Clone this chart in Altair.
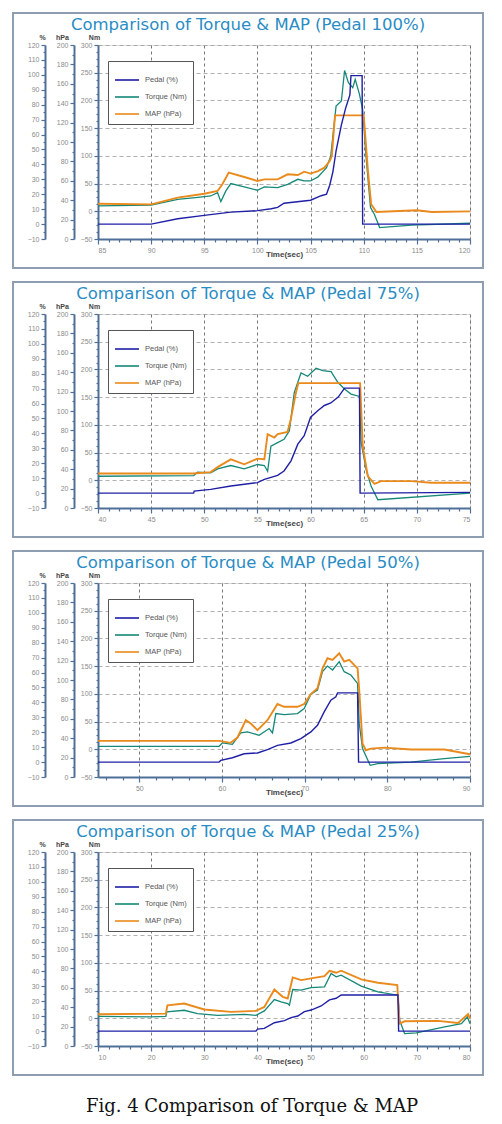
import altair as alt
import pandas as pd

# ---------------- data ----------------
series_names = ["Pedal (%)", "Torque (Nm)", "MAP (hPa)"]
series_colors = ["#1f1fa6", "#168878", "#ea8a1c"]

titles = [
    "Comparison of Torque & MAP (Pedal 100%)",
    "Comparison of Torque & MAP (Pedal 75%)",
    "Comparison of Torque & MAP (Pedal 50%)",
    "Comparison of Torque & MAP (Pedal 25%)",
]
caption = "Fig. 4 Comparison of Torque & MAP"

x_domains = [[85, 120], [40, 75], [45, 90], [10, 80]]
x_major_step = [5, 5, 10, 10]
x_minor_ticks = [
    list(range(85, 121, 1)),
    list(range(40, 76, 1)),
    list(range(46, 91, 2)),
    list(range(10, 81, 2)),
]

pct_ticks = list(range(-10, 121, 5))
hpa_ticks = list(range(0, 201, 10))
nm_ticks = [v / 2 for v in range(-100, 601, 25)]

# Panel 1 (Pedal 100%)
p1_ped_t = [85, 90, 92.5, 95, 97.5, 100, 101.3, 101.9, 102.5, 105, 106, 106.5, 106.8, 107.1, 107.4, 107.9, 108.3, 108.7, 108.8, 109.85, 109.9, 120]
p1_ped_v = [0, 0, 3.6, 5.8, 8, 9, 10.3, 11.2, 14, 16, 19, 20, 26, 35, 49, 66.5, 77.7, 86.6, 99.5, 99.5, 0, 0]
p1_tq_t = [85, 90, 92.5, 94.4, 95.6, 96.25, 96.56, 97.03, 97.5, 98.76, 100.0, 100.65, 101.9, 102.85, 103.8, 104.4, 105.0, 105.7, 106.5, 106.9, 107.4, 107.9, 108.2, 108.56, 108.97, 109.2, 109.6, 109.9, 110.2, 110.64, 111.0, 111.5, 114.5, 120]
p1_tq_v = [9.6, 11, 21.6, 25, 27.6, 33.6, 17.4, 36.7, 50, 44, 38, 44, 42.7, 48.7, 57.7, 54.7, 54.7, 62, 78.7, 100, 190, 199, 254, 232, 223, 238, 211, 184, 103, 6.6, -5.4, -29.4, -25, -21.6]
p1_map_t = [85, 90, 92.5, 95, 96.25, 96.7, 97.3, 98.76, 100, 100.65, 101.9, 102.85, 103.8, 104.4, 105, 105.7, 106.3, 106.8, 107.0, 107.3, 110.0, 110.4, 110.7, 111.2, 115, 116.4, 120]
p1_map_v = [36.4, 35.7, 42.6, 46.7, 49.5, 56.4, 68.4, 63.9, 59.8, 61.5, 61.5, 66.7, 66, 69.4, 67.4, 70, 73.5, 80.4, 85.6, 127.5, 127.5, 70, 35.7, 27.8, 29.6, 27.8, 28.5]

# Panel 2 (Pedal 75%)
p2_ped_t = [40, 49, 49.05, 50.6, 52.5, 55.0, 55.65, 56.9, 57.5, 58.16, 58.8, 59.4, 60.0, 60.7, 61.3, 61.9, 62.6, 63.2, 64.6, 64.66, 75]
p2_ped_v = [0, 0, 1.3, 2.5, 4.7, 7, 9.2, 11.9, 14.8, 21.6, 32.8, 38.4, 50.8, 55.3, 58.7, 60.4, 64.3, 70.3, 70.3, 0, 0.5]
p2_tq_t = [40, 49.0, 49.36, 50.6, 51.25, 52.5, 53.76, 55.0, 55.65, 55.96, 56.27, 56.9, 57.5, 58.0, 58.47, 59.1, 59.73, 60.52, 61.14, 61.93, 62.56, 63.19, 63.81, 64.6, 64.76, 65.23, 65.7, 66.33, 75]
p2_tq_v = [7.3, 8.5, 14.5, 13.3, 20.6, 26.6, 20.6, 28.5, 26.6, 16.3, 61.7, 67.8, 73.8, 89, 158.6, 193.7, 187.7, 202.2, 198, 196, 176.8, 164.6, 155.6, 151.3, 67.8, 19.4, -10.9, -35.1, -23]
p2_map_t = [40, 49, 50.6, 51.25, 52.5, 53.76, 55, 55.65, 55.96, 56.59, 56.9, 57.84, 58.16, 58.63, 58.85, 64.66, 64.91, 65.38, 66.01, 66.64, 69.47, 71.35, 75]
p2_map_v = [35.6, 35.6, 37, 42.2, 50.2, 45, 50.9, 50.2, 76.1, 72.7, 76.1, 78.5, 92.4, 119.4, 128.7, 128.7, 64, 32.9, 24.9, 27.7, 27.7, 26, 26]

# Panel 3 (Pedal 50%)
p3_ped_t = [45, 59.65, 59.85, 61.26, 62.68, 64.29, 65.5, 66.71, 68.33, 69.54, 70.75, 71.55, 72.36, 73.17, 73.77, 73.98, 76.4, 76.52, 90]
p3_ped_v = [0, 0, 1.1, 2.9, 5.6, 6.1, 8.3, 11.2, 12.8, 15.7, 20.2, 24.7, 33.6, 41.5, 43.7, 46.4, 46.4, 0, 0]
p3_tq_t = [45, 59.65, 60.05, 61.26, 62.27, 63.08, 64.49, 65.7, 66.11, 66.51, 67.52, 69.13, 69.94, 70.75, 71.55, 72.16, 72.76, 73.37, 74.18, 74.78, 75.59, 76.4, 76.6, 77.0, 77.93, 78.82, 82.85, 86.89, 90]
p3_tq_v = [5.4, 5.4, 11.5, 9, 29.6, 31.4, 25.3, 37.4, 29.6, 64.5, 62.7, 64.5, 73.6, 99.5, 106.8, 140, 150.2, 143, 158, 140, 134, 118.8, 46.4, 1.2, -29, -26, -23, -17, -12.7]
p3_map_t = [45, 59.65, 61.06, 61.87, 62.88, 63.48, 64.29, 65.5, 66.71, 67.52, 69.13, 69.94, 70.75, 71.55, 72.16, 72.76, 73.37, 74.18, 74.78, 75.39, 76.4, 76.6, 77, 77.4, 78.01, 79.62, 82.85, 86.89, 90]
p3_map_v = [37.2, 37.2, 35.2, 40.7, 58.6, 55.2, 48.3, 58.6, 75.2, 72.4, 72.4, 75.2, 85.5, 91.4, 112, 122.4, 120.7, 127.6, 119, 120.7, 112, 89.7, 34.5, 27.6, 29.3, 30.3, 28.3, 28.3, 23.4]

# Panel 4 (Pedal 25%)
p4_ped_t = [10, 39.73, 40.04, 41.3, 43.19, 45.07, 46.33, 47.59, 48.84, 50.1, 51.99, 53.56, 54.82, 55.76, 66.44, 66.57, 80]
p4_ped_v = [0, 0, 1.3, 1.8, 5.6, 7, 9, 10.1, 13, 14.1, 16.8, 20.9, 22, 24.2, 24.2, 0, 0]
p4_tq_t = [10, 19.93, 22.76, 22.95, 26.22, 28.73, 32.5, 37.53, 39.73, 41.3, 43.19, 44.45, 45.7, 46.02, 46.64, 48.22, 50.1, 52.62, 53.87, 54.82, 55.76, 59.53, 62.67, 66.44, 66.76, 67.7, 69.9, 75.24, 78.38, 79.52, 80]
p4_tq_v = [3.6, 2.4, 3.6, 11.5, 14.5, 8.4, 5.4, 7.2, 5.4, 13.3, 33.8, 29.6, 26.5, 23.5, 51.9, 50.7, 55.5, 56.7, 80.8, 74.8, 77.8, 57.9, 47.6, 41.6, -3.6, -27.7, -26.5, -15.7, -9.7, 2.4, -9.7]
p4_map_t = [10, 22.76, 23.07, 26.22, 29.99, 35.02, 39.73, 41.3, 43.19, 44.76, 45.7, 46.64, 48.22, 50.1, 52.62, 53.56, 54.82, 55.76, 59.53, 62.67, 66.32, 66.76, 67.7, 73.98, 77.76, 79.64, 80]
p4_map_v = [32.8, 33.4, 42, 43.8, 37.6, 35.2, 36.2, 40.3, 58.3, 50.7, 49, 70.7, 67.9, 69.7, 72.1, 77.6, 75.5, 77.6, 68.6, 65.2, 62.8, 23.1, 25.5, 25.9, 23.8, 32.8, 28.3]

panels = [
    (p1_ped_t, p1_ped_v, p1_tq_t, p1_tq_v, p1_map_t, p1_map_v),
    (p2_ped_t, p2_ped_v, p2_tq_t, p2_tq_v, p2_map_t, p2_map_v),
    (p3_ped_t, p3_ped_v, p3_tq_t, p3_tq_v, p3_map_t, p3_map_v),
    (p4_ped_t, p4_ped_v, p4_tq_t, p4_tq_v, p4_map_t, p4_map_v),
]

# ---------------- styling ----------------
AX = "#4f6f98"
FONT = "Liberation Sans"
W, H = 372, 194


def y_axis(vals, step, title, offset, tx, grid=False):
    test = f"datum.value % {step} === 0"
    return alt.Axis(
        orient="left", offset=offset, values=vals, title=title,
        labelExpr=f"{test} ? datum.label : ''", format="d",
        titleAngle=0, titleX=tx, titleY=-8, titleAlign="center", titleBaseline="middle",
        titleFontSize=7, titleFontWeight="bold", titleColor="#444444", titleFont=FONT,
        labelFontSize=7, labelColor="#8a8a8a", labelFont=FONT, labelPadding=2,
        tickSize={"condition": {"test": test, "value": 4}, "value": 2},
        tickColor=AX, tickWidth=1.2, domainColor=AX, domainWidth=2,
        grid=grid, gridColor="#9c9c9c", gridDash=[4, 3], gridWidth=0.8,
        gridOpacity={"condition": {"test": test, "value": 1}, "value": 0},
    )


def x_axis(minor, step):
    test = f"datum.value % {step} === 0"
    return alt.Axis(
        values=minor, format="d", title="Time(sec)",
        labelExpr=f"{test} ? datum.label : ''",
        labelFontSize=7, labelColor="#8a8a8a", labelFont=FONT, labelPadding=2,
        tickSize={"condition": {"test": test, "value": 5}, "value": 3},
        tickColor=AX, tickWidth=1.2, domainColor=AX, domainWidth=2,
        grid=True, gridColor="#555555", gridDash=[3, 3], gridWidth=0.8,
        gridOpacity={"condition": {"test": test, "value": 1}, "value": 0},
        titleFontSize=8, titleFontWeight="bold", titleColor="#444444", titleFont=FONT,
        titleY=15, titleBaseline="middle",
    )


legend = alt.Legend(
    title=None, orient="none", legendX=10, legendY=16, direction="vertical",
    fillColor="white", strokeColor="#555555", padding=6,
    labelFontSize=7.5, labelColor="#555555", labelFont=FONT, labelOffset=5,
    symbolType="stroke", symbolSize=576, symbolStrokeWidth=1.6, rowPadding=-8,
)
cscale = alt.Scale(domain=series_names, range=series_colors)


def panel(i):
    ped_t, ped_v, tq_t, tq_v, map_t, map_v = panels[i]
    xs = alt.Scale(domain=x_domains[i], nice=False, zero=False)
    xa = x_axis(x_minor_ticks[i], x_major_step[i])
    x = alt.X("t:Q", scale=xs, axis=xa)
    col = alt.Color("s:N", scale=cscale, legend=legend)

    df_ped = pd.DataFrame({"t": ped_t, "v": ped_v, "s": series_names[0]})
    df_tq = pd.DataFrame({"t": tq_t, "v": tq_v, "s": series_names[1]})
    df_map = pd.DataFrame({"t": map_t, "v": map_v, "s": series_names[2]})

    tq = alt.Chart(df_tq).mark_line(strokeWidth=1.3).encode(
        x=x,
        y=alt.Y("v:Q", scale=alt.Scale(domain=[-50, 300], nice=False, zero=False),
                axis=y_axis(nm_ticks, 50, "Nm", 0, -4, grid=True)),
        color=col,
    )
    mp = alt.Chart(df_map).mark_line(strokeWidth=1.9).encode(
        x=x,
        y=alt.Y("v:Q", scale=alt.Scale(domain=[0, 200], nice=False, zero=False),
                axis=y_axis(hpa_ticks, 20, "hPa", 24, -12)),
        color=col,
    )
    pd_ = alt.Chart(df_ped).mark_line(strokeWidth=1.4).encode(
        x=x,
        y=alt.Y("v:Q", scale=alt.Scale(domain=[-10, 120], nice=False, zero=False),
                axis=y_axis(pct_ticks, 10, "%", 53, -3)),
        color=col,
    )

    deco = pd.DataFrame({"k": [0]})
    box = alt.Chart(deco).mark_rect(fillOpacity=0, stroke="#8f9db2", strokeWidth=2).encode(
        x=alt.value(-85), x2=alt.value(385), y=alt.value(-32), y2=alt.value(223)
    )
    ttl = alt.Chart(deco).mark_text(
        text=titles[i], font="DejaVu Sans", fontSize=16.5, color="#2a8cc4",
        align="center", baseline="middle"
    ).encode(x=alt.value(150), y=alt.value(-20))

    layers = [box, ttl, tq, mp, pd_]
    if i == 3:
        cap = alt.Chart(deco).mark_text(
            text=caption, font="DejaVu Serif", fontSize=18, color="#111111",
            align="center", baseline="middle"
        ).encode(x=alt.value(154), y=alt.value(255))
        layers.append(cap)

    return alt.layer(*layers).resolve_scale(y="independent").properties(width=W, height=H)


chart = alt.vconcat(*[panel(i) for i in range(4)], spacing=10).resolve_scale(
    color="independent"
).resolve_legend(color="independent").properties(
    padding={"left": 3, "top": 3, "right": 0, "bottom": 0}
).configure_view(stroke=AX, strokeWidth=1.5).configure(background="white")

chart.save("out.html", embed_options={"renderer": "svg", "actions": False})
